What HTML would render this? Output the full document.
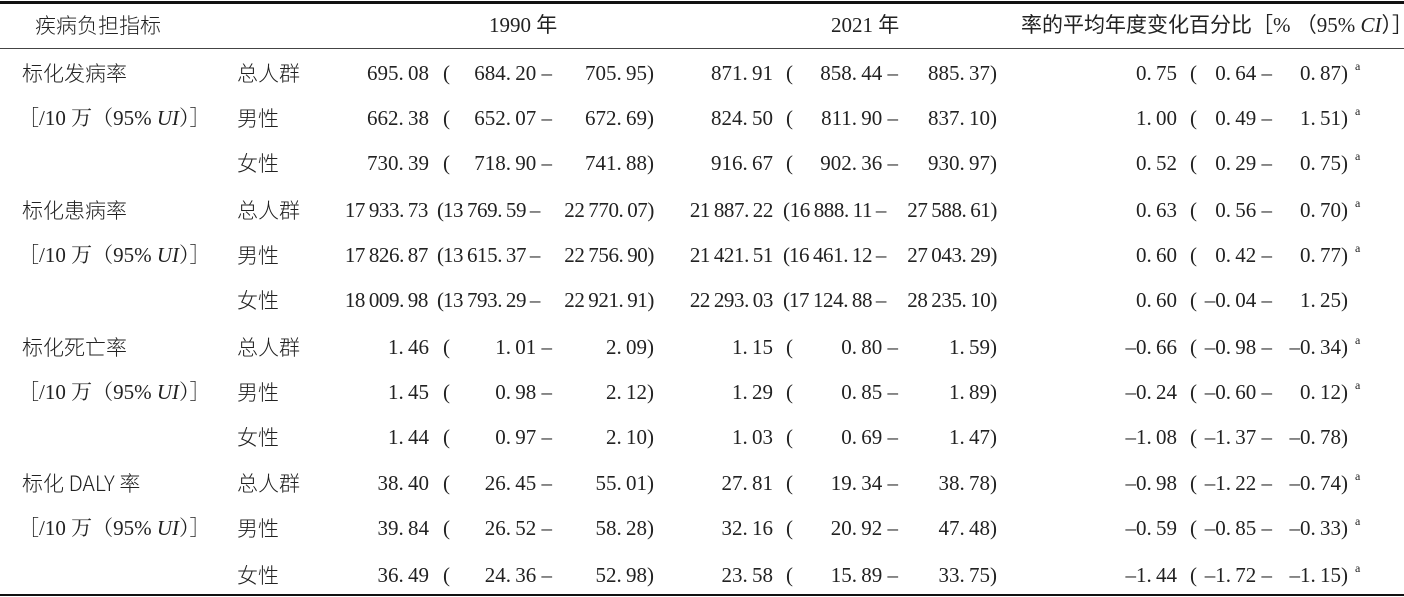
<!DOCTYPE html>
<html><head><meta charset="utf-8"><style>
body{margin:0;background:#fff;}
#w{position:relative;width:1404px;height:597px;overflow:hidden;font-family:"Liberation Serif","Noto Serif CJK SC",serif;font-size:21px;color:#222;}
.r{position:absolute;left:0;width:1404px;height:26px;line-height:26px;}
.r span{position:absolute;white-space:pre;}
.a{right:975px}.p1{left:443px}.b{right:852px}.c{right:750px}
.d{right:631px}.p2{left:786px}.e{right:506px}.f{right:407px}
.g{right:227px}.p3{left:1190px}.h{right:132px}.i{right:56px}
.w .a,.w .b,.w .c,.w .d,.w .e,.w .f{letter-spacing:-0.4px}
.w .a{right:976px}.w .p1{left:437px}.w .b{right:864px}.w .e{right:518px}.w .p2{left:783px}
.l{left:237px;font-family:"Noto Sans CJK SC",sans-serif;font-weight:300}
.k{left:22px;font-family:"Noto Sans CJK SC",sans-serif;font-weight:300}
.u{left:18px;font-family:"Liberation Serif","Noto Serif CJK SC",serif}
.s{left:1355px;font-size:12px;top:-7px}
.hl{position:absolute;left:0;width:1404px;background:#111;}
.hd{position:absolute;top:12px;line-height:26px;white-space:pre;font-family:"Liberation Serif","Noto Sans CJK SC",sans-serif;}
</style></head><body><div id="w">
<div class="hl" style="top:1px;height:3px"></div>
<div class="hl" style="top:48px;height:1px;background:#444"></div>
<div class="hl" style="top:594px;height:2px"></div>
<div class="hd" style="left:35px;font-family:'Noto Sans CJK SC',sans-serif;font-weight:300">疾病负担指标</div>
<div class="hd" style="left:489px">1990 年</div>
<div class="hd" style="left:831px">2021 年</div>
<div class="hd" style="left:1021px">率的平均年度变化百分比［% （95% <i>CI</i>）］</div>

<div class="r" style="top:60px"><span class="k">标化发病率</span><span class="l">总人群</span><span class="a">695.&#8201;08</span><span class="p1">(</span><span class="b">684.&#8201;20 –</span><span class="c">705.&#8201;95)</span><span class="d">871.&#8201;91</span><span class="p2">(</span><span class="e">858.&#8201;44 –</span><span class="f">885.&#8201;37)</span><span class="g">0.&#8201;75</span><span class="p3">(</span><span class="h">0.&#8201;64 –</span><span class="i">0.&#8201;87)</span><span class="s">a</span></div>
<div class="r" style="top:105px"><span class="u">［/10 万（95% <i>UI</i>）］</span><span class="l">男性</span><span class="a">662.&#8201;38</span><span class="p1">(</span><span class="b">652.&#8201;07 –</span><span class="c">672.&#8201;69)</span><span class="d">824.&#8201;50</span><span class="p2">(</span><span class="e">811.&#8201;90 –</span><span class="f">837.&#8201;10)</span><span class="g">1.&#8201;00</span><span class="p3">(</span><span class="h">0.&#8201;49 –</span><span class="i">1.&#8201;51)</span><span class="s">a</span></div>
<div class="r" style="top:150px"><span class="l">女性</span><span class="a">730.&#8201;39</span><span class="p1">(</span><span class="b">718.&#8201;90 –</span><span class="c">741.&#8201;88)</span><span class="d">916.&#8201;67</span><span class="p2">(</span><span class="e">902.&#8201;36 –</span><span class="f">930.&#8201;97)</span><span class="g">0.&#8201;52</span><span class="p3">(</span><span class="h">0.&#8201;29 –</span><span class="i">0.&#8201;75)</span><span class="s">a</span></div>

<div class="r w" style="top:197px"><span class="k">标化患病率</span><span class="l">总人群</span><span class="a">17&#8201;933.&#8201;73</span><span class="p1">(</span><span class="b">13&#8201;769.&#8201;59&#8201;–</span><span class="c">22&#8201;770.&#8201;07)</span><span class="d">21&#8201;887.&#8201;22</span><span class="p2">(</span><span class="e">16&#8201;888.&#8201;11&#8201;–</span><span class="f">27&#8201;588.&#8201;61)</span><span class="g">0.&#8201;63</span><span class="p3">(</span><span class="h">0.&#8201;56 –</span><span class="i">0.&#8201;70)</span><span class="s">a</span></div>
<div class="r w" style="top:242px"><span class="u">［/10 万（95% <i>UI</i>）］</span><span class="l">男性</span><span class="a">17&#8201;826.&#8201;87</span><span class="p1">(</span><span class="b">13&#8201;615.&#8201;37&#8201;–</span><span class="c">22&#8201;756.&#8201;90)</span><span class="d">21&#8201;421.&#8201;51</span><span class="p2">(</span><span class="e">16&#8201;461.&#8201;12&#8201;–</span><span class="f">27&#8201;043.&#8201;29)</span><span class="g">0.&#8201;60</span><span class="p3">(</span><span class="h">0.&#8201;42 –</span><span class="i">0.&#8201;77)</span><span class="s">a</span></div>
<div class="r w" style="top:287px"><span class="l">女性</span><span class="a">18&#8201;009.&#8201;98</span><span class="p1">(</span><span class="b">13&#8201;793.&#8201;29&#8201;–</span><span class="c">22&#8201;921.&#8201;91)</span><span class="d">22&#8201;293.&#8201;03</span><span class="p2">(</span><span class="e">17&#8201;124.&#8201;88&#8201;–</span><span class="f">28&#8201;235.&#8201;10)</span><span class="g">0.&#8201;60</span><span class="p3">(</span><span class="h">–0.&#8201;04 –</span><span class="i">1.&#8201;25)</span></div>

<div class="r" style="top:334px"><span class="k">标化死亡率</span><span class="l">总人群</span><span class="a">1.&#8201;46</span><span class="p1">(</span><span class="b">1.&#8201;01 –</span><span class="c">2.&#8201;09)</span><span class="d">1.&#8201;15</span><span class="p2">(</span><span class="e">0.&#8201;80 –</span><span class="f">1.&#8201;59)</span><span class="g">–0.&#8201;66</span><span class="p3">(</span><span class="h">–0.&#8201;98 –</span><span class="i">–0.&#8201;34)</span><span class="s">a</span></div>
<div class="r" style="top:379px"><span class="u">［/10 万（95% <i>UI</i>）］</span><span class="l">男性</span><span class="a">1.&#8201;45</span><span class="p1">(</span><span class="b">0.&#8201;98 –</span><span class="c">2.&#8201;12)</span><span class="d">1.&#8201;29</span><span class="p2">(</span><span class="e">0.&#8201;85 –</span><span class="f">1.&#8201;89)</span><span class="g">–0.&#8201;24</span><span class="p3">(</span><span class="h">–0.&#8201;60 –</span><span class="i">0.&#8201;12)</span><span class="s">a</span></div>
<div class="r" style="top:424px"><span class="l">女性</span><span class="a">1.&#8201;44</span><span class="p1">(</span><span class="b">0.&#8201;97 –</span><span class="c">2.&#8201;10)</span><span class="d">1.&#8201;03</span><span class="p2">(</span><span class="e">0.&#8201;69 –</span><span class="f">1.&#8201;47)</span><span class="g">–1.&#8201;08</span><span class="p3">(</span><span class="h">–1.&#8201;37 –</span><span class="i">–0.&#8201;78)</span></div>

<div class="r" style="top:470px"><span class="k">标化 DALY 率</span><span class="l">总人群</span><span class="a">38.&#8201;40</span><span class="p1">(</span><span class="b">26.&#8201;45 –</span><span class="c">55.&#8201;01)</span><span class="d">27.&#8201;81</span><span class="p2">(</span><span class="e">19.&#8201;34 –</span><span class="f">38.&#8201;78)</span><span class="g">–0.&#8201;98</span><span class="p3">(</span><span class="h">–1.&#8201;22 –</span><span class="i">–0.&#8201;74)</span><span class="s">a</span></div>
<div class="r" style="top:515px"><span class="u">［/10 万（95% <i>UI</i>）］</span><span class="l">男性</span><span class="a">39.&#8201;84</span><span class="p1">(</span><span class="b">26.&#8201;52 –</span><span class="c">58.&#8201;28)</span><span class="d">32.&#8201;16</span><span class="p2">(</span><span class="e">20.&#8201;92 –</span><span class="f">47.&#8201;48)</span><span class="g">–0.&#8201;59</span><span class="p3">(</span><span class="h">–0.&#8201;85 –</span><span class="i">–0.&#8201;33)</span><span class="s">a</span></div>
<div class="r" style="top:562px"><span class="l">女性</span><span class="a">36.&#8201;49</span><span class="p1">(</span><span class="b">24.&#8201;36 –</span><span class="c">52.&#8201;98)</span><span class="d">23.&#8201;58</span><span class="p2">(</span><span class="e">15.&#8201;89 –</span><span class="f">33.&#8201;75)</span><span class="g">–1.&#8201;44</span><span class="p3">(</span><span class="h">–1.&#8201;72 –</span><span class="i">–1.&#8201;15)</span><span class="s">a</span></div>
</div></body></html>
